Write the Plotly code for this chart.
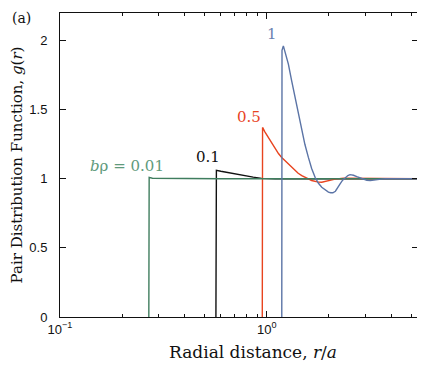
import numpy as np
import plotly.graph_objects as go

# g(r) curves, one per b*rho value
x_001 = [0.269, 0.270, 0.280, 0.350, 0.600, 5.6]
y_001 = [0.0, 1.010, 1.004, 1.002, 1.000, 1.000]

x_01 = [0.568, 0.571, 0.60, 0.65, 0.70, 0.75, 0.80, 0.86, 0.946, 1.10, 5.6]
y_01 = [0.0, 1.062, 1.055, 1.045, 1.035, 1.027, 1.020, 1.012, 1.003, 1.000, 1.000]

x_05 = [0.952, 0.955, 0.98, 1.018, 1.06, 1.097, 1.14, 1.182, 1.23, 1.273, 1.32,
        1.371, 1.42, 1.478, 1.53, 1.591, 1.65, 1.714, 1.78, 1.847, 1.92, 1.99,
        2.14, 2.35, 2.6, 3.0, 5.6]
y_05 = [0.0, 1.372, 1.340, 1.300, 1.255, 1.216, 1.183, 1.155, 1.130, 1.107, 1.083,
        1.059, 1.040, 1.023, 1.010, 0.999, 0.988, 0.980, 0.976, 0.975, 0.980, 0.987,
        0.998, 1.004, 1.004, 1.001, 1.000]

x_1 = [1.183, 1.186, 1.204, 1.24, 1.273, 1.32, 1.371, 1.42, 1.478, 1.53, 1.591,
       1.65, 1.714, 1.78, 1.847, 1.92, 1.989, 2.04, 2.09, 2.15, 2.2, 2.265, 2.33,
       2.40, 2.47, 2.53, 2.63, 2.73, 2.84, 2.94, 3.05, 3.17, 3.3, 3.41, 3.58, 3.74,
       3.9, 4.1, 4.4, 5.6]
y_1 = [0.0, 1.930, 1.962, 1.895, 1.830, 1.710, 1.588, 1.465, 1.348, 1.250, 1.155,
       1.075, 1.011, 0.968, 0.939, 0.917, 0.904, 0.899, 0.899, 0.910, 0.930, 0.963,
       0.990, 1.011, 1.024, 1.030, 1.026, 1.016, 1.005, 0.996, 0.990, 0.987, 0.989,
       0.992, 0.998, 1.001, 1.002, 1.001, 1.000, 1.000]

# (x, y, colour) in draw order
series = [
    (x_01, y_01, "#111111"),
    (x_05, y_05, "#e8441f"),
    (x_001, y_001, "#3f7d5e"),
    (x_1, y_1, "#5b74a6"),
]

# curve labels: text, x, y, colour
labels = [
    ("<i>b</i>ρ = 0.01", 0.211, 1.095, "#5f9a7c"),
    ("0.1", 0.519, 1.16, "#111111"),
    ("0.5", 0.821, 1.449, "#e8441f"),
    ("1", 1.057, 2.049, "#6b82b0"),
]

SERIF = "DejaVu Serif"
SANS = "Liberation Sans"

# the page body offsets the figure by 8px, so margins are trimmed by that much
fig = go.Figure()
for xs, ys, color in series:
    fig.add_scatter(x=xs, y=ys, mode="lines", line=dict(color=color, width=1.4),
                    showlegend=False)

for text, lx, ly, color in labels:
    fig.add_annotation(x=np.log10(lx), y=ly, text=text, showarrow=False,
                       font=dict(family=SERIF, size=15, color=color))

fig.add_annotation(x=-0.108, y=1.016, xref="paper", yref="paper", text="(a)",
                   xanchor="center", yanchor="top", showarrow=False,
                   font=dict(family=SERIF, size=14, color="#111"))
fig.add_annotation(x=0.538, y=-0.115, xref="paper", yref="paper",
                   text="Radial distance, <i>r</i>/<i>a</i>", showarrow=False,
                   xanchor="center", yanchor="middle",
                   font=dict(family=SERIF, size=17, color="#111"))
fig.add_annotation(x=-0.119, y=0.5, xref="paper", yref="paper",
                   text="Pair Distribution Function, <i>g</i>(<i>r</i>)",
                   textangle=-90, showarrow=False,
                   xanchor="center", yanchor="middle",
                   font=dict(family=SERIF, size=15, color="#111"))

# right edge of the box is drawn grey in the reference
fig.add_shape(type="line", xref="paper", yref="paper", x0=1, x1=1, y0=0, y1=1,
              line=dict(color="#888888", width=1.5))

minor_x = [0.2, 0.3, 0.4, 0.5, 0.6, 0.7, 0.8, 0.9, 2, 3, 4, 5]

fig.update_layout(
    width=425,
    height=366,
    margin=dict(l=52, r=15, t=5, b=57),
    paper_bgcolor="white",
    plot_bgcolor="white",
    font=dict(family=SANS, size=13, color="#111"),
    xaxis=dict(
        type="log",
        range=[-1, 0.732],
        tickvals=[0.1, 1],
        ticktext=["10<sup>−1</sup>", "10<sup>0</sup>"],
        ticks="inside",
        ticklen=6,
        tickcolor="#111",
        minor=dict(tickvals=minor_x, ticks="inside", ticklen=3, tickcolor="#111"),
        showline=True,
        linecolor="#111",
        linewidth=1,
        mirror="allticks",
        showgrid=False,
        zeroline=False,
        automargin=False,
    ),
    yaxis=dict(
        range=[0, 2.2],
        tickvals=[0, 0.5, 1, 1.5, 2],
        ticktext=["0", "0.5", "1", "1.5", "2"],
        ticks="inside",
        ticklen=6,
        tickcolor="#111",
        ticklabelstandoff=9,
        showline=True,
        linecolor="#111",
        linewidth=1,
        mirror="allticks",
        showgrid=False,
        zeroline=False,
        automargin=False,
    ),
)

fig.write_html("out.html")
